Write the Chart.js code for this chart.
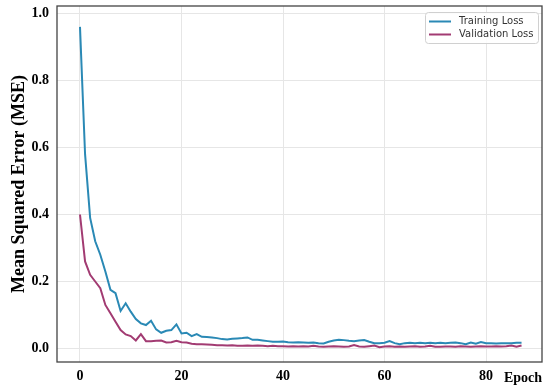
<!DOCTYPE html>
<html>
<head>
<meta charset="utf-8">
<script src="https://cdn.jsdelivr.net/npm/chart.js@4"></script>
<style>
  html, body { margin: 0; padding: 0; background: #fff; }
  #wrap { width: 550px; height: 391px; }
</style>
</head>
<body>
<div id="wrap"><canvas id="lossChart"></canvas></div>
<script>
const trainLoss = [
    0.96, 0.58, 0.39, 0.32, 0.28, 0.23, 0.175, 0.165, 0.112, 0.135,
    0.11, 0.088, 0.075, 0.07, 0.083, 0.057, 0.047, 0.053, 0.055, 0.072,
    0.045, 0.047, 0.037, 0.043, 0.035, 0.034, 0.033, 0.031, 0.028, 0.027,
    0.029, 0.030, 0.031, 0.033, 0.026, 0.026, 0.024, 0.022, 0.020, 0.020,
    0.021, 0.019, 0.018, 0.019, 0.018, 0.017, 0.018, 0.016, 0.015, 0.020,
    0.024, 0.026, 0.025, 0.023, 0.022, 0.024, 0.025, 0.020, 0.016, 0.016,
    0.017, 0.022, 0.016, 0.013, 0.016, 0.017, 0.016, 0.017, 0.016, 0.017,
    0.016, 0.017, 0.016, 0.017, 0.018, 0.016, 0.013, 0.018, 0.014, 0.019,
    0.016, 0.016, 0.015, 0.016, 0.016, 0.016, 0.017, 0.017
];
const valLoss = [
    0.40, 0.26, 0.22, 0.20, 0.18, 0.13, 0.105, 0.08, 0.055, 0.042,
    0.037, 0.024, 0.043, 0.022, 0.022, 0.023, 0.024, 0.018, 0.019, 0.023,
    0.019, 0.018, 0.014, 0.013, 0.013, 0.012, 0.011, 0.010, 0.010, 0.009,
    0.010, 0.008, 0.008, 0.009, 0.008, 0.009, 0.008, 0.007, 0.008, 0.007,
    0.007, 0.006, 0.007, 0.006, 0.007, 0.006, 0.008, 0.006, 0.005, 0.006,
    0.007, 0.006, 0.005, 0.006, 0.010, 0.006, 0.005, 0.007, 0.009, 0.004,
    0.006, 0.007, 0.005, 0.006, 0.005, 0.006, 0.007, 0.005, 0.006, 0.008,
    0.005, 0.005, 0.006, 0.006, 0.005, 0.007, 0.006, 0.005, 0.006, 0.007,
    0.006, 0.006, 0.007, 0.006, 0.007, 0.009, 0.005, 0.009
];
const xTicks = [0, 20, 40, 60, 80];
const yTicks = [0, 0.2, 0.4, 0.6, 0.8, 1.0];
const seriesNames = ['Training Loss', 'Validation Loss'];
const seriesColors = ['#2A89B5', '#A23B72'];

const serif = "'Liberation Serif', 'Times New Roman', serif";

// frame round the plot + legend box in the top right corner
const framePlugin = {
    id: 'frame',
    afterDraw(chart) {
        const ctx = chart.ctx;
        const a = chart.chartArea;
        ctx.save();
        ctx.strokeStyle = '#444';
        ctx.lineWidth = 1.3;
        ctx.strokeRect(a.left, a.top, a.right - a.left, a.bottom - a.top);

        const bx = 425, by = 12, bw = 113, bh = 31;
        ctx.fillStyle = 'rgba(255,255,255,0.85)';
        ctx.strokeStyle = '#d0d0d0';
        ctx.lineWidth = 1;
        ctx.beginPath();
        ctx.roundRect(bx + 0.5, by + 0.5, bw, bh, 3);
        ctx.fill();
        ctx.stroke();

        ctx.font = "10px 'DejaVu Sans', sans-serif";
        ctx.textBaseline = 'middle';
        ctx.textAlign = 'left';
        chart.data.datasets.forEach((ds, i) => {
            const y = by + 9.5 + i * 13;
            ctx.strokeStyle = ds.borderColor;
            ctx.lineWidth = 2;
            ctx.beginPath();
            ctx.moveTo(bx + 4, y);
            ctx.lineTo(bx + 26, y);
            ctx.stroke();
            ctx.fillStyle = '#333';
            ctx.fillText(ds.label, bx + 34, y);
        });
        ctx.restore();
    }
};

const ctx = document.getElementById('lossChart').getContext('2d');
const lossChart = new Chart(ctx, {
    type: 'line',
    data: {
        datasets: [
            {
                label: seriesNames[0],
                data: trainLoss.map((v, i) => ({ x: i, y: v })),
                borderColor: seriesColors[0],
                borderWidth: 2,
                pointRadius: 0,
                tension: 0
            },
            {
                label: seriesNames[1],
                data: valLoss.map((v, i) => ({ x: i, y: v })),
                borderColor: seriesColors[1],
                borderWidth: 2,
                pointRadius: 0,
                tension: 0
            }
        ]
    },
    options: {
        responsive: true,
        maintainAspectRatio: false,
        animation: false,
        layout: { padding: { top: 6, right: 8, left: 0, bottom: 0 } },
        plugins: {
            legend: { display: false },
            tooltip: { enabled: false }
        },
        scales: {
            x: {
                type: 'linear',
                min: -4.53,
                max: 91.03,
                afterBuildTicks: s => { s.ticks = xTicks.map(v => ({ value: v })); },
                afterFit: s => { s.height = 29; s.paddingLeft = 0; s.paddingRight = 0; },
                grid: { color: '#e6e6e6', drawTicks: false },
                border: { display: false },
                ticks: {
                    padding: 6,
                    color: '#000',
                    font: { family: serif, size: 14, weight: 'bold' }
                },
                title: {
                    display: true,
                    text: 'Epoch',
                    align: 'end',
                    color: '#000',
                    padding: 4,
                    font: { family: serif, size: 14, weight: 'bold' }
                }
            },
            y: {
                min: -0.0403,
                max: 1.0224,
                afterBuildTicks: s => { s.ticks = yTicks.map(v => ({ value: v })); },
                afterFit: s => { s.width = 57; s.paddingTop = 0; s.paddingBottom = 0; },
                grid: { color: '#e6e6e6', drawTicks: false },
                border: { display: false },
                ticks: {
                    padding: 8,
                    color: '#000',
                    font: { family: serif, size: 14, weight: 'bold' },
                    callback: v => v.toFixed(1)
                },
                title: {
                    display: true,
                    text: 'Mean Squared Error (MSE)',
                    color: '#000',
                    padding: 9,
                    font: { family: serif, size: 18, weight: 'bold' }
                }
            }
        }
    },
    plugins: [framePlugin]
});
</script>
</body>
</html>
